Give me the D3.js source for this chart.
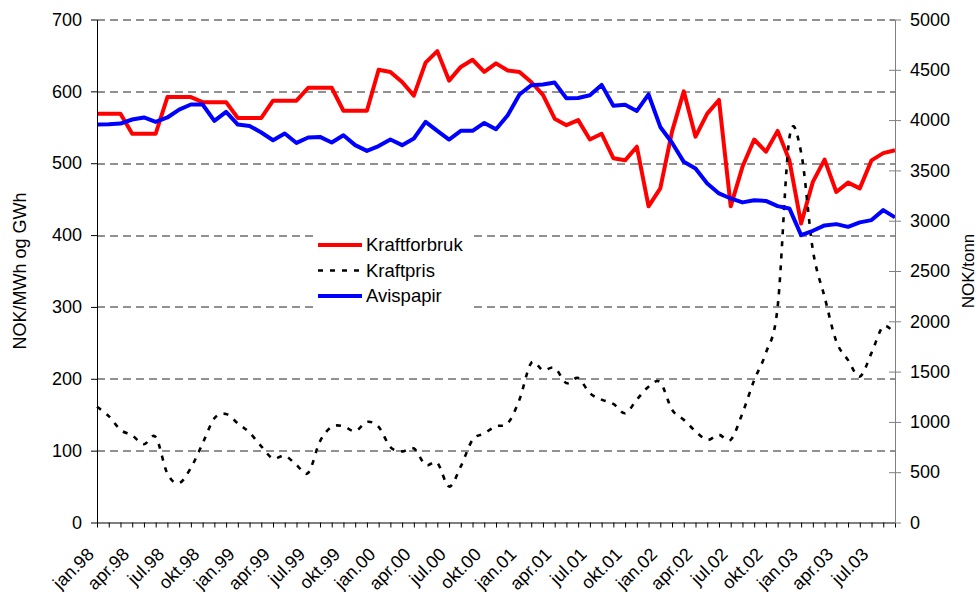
<!DOCTYPE html>
<html>
<head>
<meta charset="utf-8">
<script src="https://cdn.jsdelivr.net/npm/d3@7"></script>
<style>
	body { margin: 0; background: #fff; }
	svg { display: block; font-family: "Liberation Sans", Arial, sans-serif; }
</style>
</head>
<body>
<script>

// kategorier: månedlig, jan.98 - sep.03
var monthNames = ['jan', 'feb', 'mar', 'apr', 'mai', 'jun', 'jul', 'aug', 'sep', 'okt', 'nov', 'des'];
var years = ['98', '99', '00', '01', '02', '03'];
var nMonths = 69;

// venstre akse (NOK/MWh og GWh)
var kraftforbruk = [569,569,569,541,541,541,592,592,592,585,585,585,563,563,563,587,587,587,605,605,605,573,573,573,
	630,627,613,594,640,656,615,634,644,627,639,629,627,613,595,562,553,560,533,541,507,504,523,440,465,544,600,537,
	569,588,440,495,533,516,545,504,416,474,505,460,473,465,504,514,518];
var kraftpris = [161,148,129,121,109,119,68,55,76,110,145,151,138,125,106,89,93,80,69,113,133,134,127,140,
	133,105,99,103,80,83,50,78,115,124,134,138,171,222,212,215,194,201,180,171,165,152,171,189,195,157,143,127,
	115,122,115,152,198,236,300,535,515,379,314,252,226,203,236,273,262];
// høyre akse (NOK/tonn)
var avispapir = [3956,3959,3966,4006,4026,3982,4026,4105,4155,4155,3992,4081,3956,3942,3877,3800,3867,3773,3827,3833,
	3777,3850,3751,3694,3742,3807,3751,3817,3982,3893,3807,3893,3893,3972,3909,4048,4254,4346,4353,4373,4217,4220,
	4247,4350,4143,4152,4091,4255,3932,3775,3585,3519,3370,3271,3221,3182,3204,3197,3145,3122,2857,2900,2953,2966,
	2939,2983,3006,3105,3033];

var leftTicks = [0, 100, 200, 300, 400, 500, 600, 700];
var rightTicks = [0, 500, 1000, 1500, 2000, 2500, 3000, 3500, 4000, 4500, 5000];
var legendNames = ['Kraftforbruk', 'Kraftpris', 'Avispapir'];


var categories = [];
years.forEach(function(y) {
	monthNames.forEach(function(m) {
		if (categories.length < nMonths) categories.push(m + '.' + y);
	});
});


var margin = {top: 19.5, right: 85, bottom: 69.5, left: 97},
	width = 980 - margin.left - margin.right,
	height = 592 - margin.top - margin.bottom;

var x = d3.scalePoint().domain(categories).range([0, width]),
	y = d3.scaleLinear().domain([0, 700]).range([height, 0]),
	y2 = d3.scaleLinear().domain([0, 5000]).range([height, 0]);

var svg = d3.select('body').append('svg')
	.attr('width', 980)
	.attr('height', 592)
	.append('g')
	.attr('transform', 'translate(' + margin.left + ',' + margin.top + ')');


// rutenett
svg.append('g')
	.selectAll('line')
	.data(leftTicks.slice(1))
	.enter().append('line')
		.attr('x1', 0)
		.attr('x2', width)
		.attr('y1', function(d) { return Math.round(y(d)) + 0.5; })
		.attr('y2', function(d) { return Math.round(y(d)) + 0.5; })
		.style('stroke', '#222')
		.style('stroke-width', 1)
		.style('stroke-dasharray', '8,5');


// serier
function lineOf(values, scale, curve) {
	return d3.line()
		.curve(curve || d3.curveLinear)
		.x(function(d, i) { return x(categories[i]); })
		.y(function(d) { return scale(d); })(values);
}

svg.append('path')
	.attr('d', lineOf(kraftforbruk, y))
	.style('fill', 'none')
	.style('stroke', '#ff0000')
	.style('stroke-width', 4)
	.style('stroke-linejoin', 'round');

svg.append('path')
	.attr('d', lineOf(kraftpris, y, d3.curveCardinal.tension(0)))
	.style('fill', 'none')
	.style('stroke', '#000')
	.style('stroke-width', 2.6)
	.style('stroke-dasharray', '5,7');

svg.append('path')
	.attr('d', lineOf(avispapir, y2))
	.style('fill', 'none')
	.style('stroke', '#0000ff')
	.style('stroke-width', 4)
	.style('stroke-linejoin', 'round');


// akser
var xAxis = svg.append('g')
	.attr('transform', 'translate(0,' + height + ')')
	.call(d3.axisBottom(x).tickSize(5).tickSizeOuter(0).tickFormat(''));
xAxis.select('.domain').attr('stroke', '#000');

svg.append('g')
	.selectAll('text')
	.data(categories.filter(function(d, i) { return i % 3 === 0 && i <= 66; }))
	.enter().append('text')
		.attr('transform', function(d) {
			return 'translate(' + (x(d) - 2) + ',' + (height + 33) + ') rotate(-45)';
		})
		.style('text-anchor', 'end')
		.style('font-size', '18px')
		.style('fill', '#000')
		.text(function(d) { return d; });

var yAxis = svg.append('g')
	.call(d3.axisLeft(y).tickValues(leftTicks).tickSize(6).tickSizeOuter(0).tickPadding(9));
yAxis.selectAll('text').style('font-size', '18px').style('fill', '#000');

var y2Axis = svg.append('g')
	.attr('transform', 'translate(' + width + ',0)')
	.call(d3.axisRight(y2).tickValues(rightTicks).tickFormat(d3.format('d'))
		.tickSize(6).tickSizeOuter(0).tickPadding(9));
y2Axis.selectAll('text').style('font-size', '18px').style('fill', '#000');
y2Axis.selectAll('.domain').attr('stroke', '#808080');
y2Axis.selectAll('.tick line').attr('stroke', '#808080').attr('x1', -6);


// aksetitler
svg.append('text')
	.attr('transform', 'rotate(-90)')
	.attr('x', 0 - (height / 2))
	.attr('y', 20 - margin.left)
	.attr('dy', '0.35em')
	.style('text-anchor', 'middle')
	.style('font-size', '18px')
	.text('NOK/MWh og GWh');

svg.append('text')
	.attr('transform', 'rotate(-90)')
	.attr('x', 0 - (height / 2))
	.attr('y', width + 73)
	.attr('dy', '0.35em')
	.style('text-anchor', 'middle')
	.style('font-size', '17px')
	.text('NOK/tonn');


// tegnforklaring
var legend = svg.append('g')
	.attr('transform', 'translate(' + (313 - margin.left) + ',' + (228 - margin.top) + ')');

legend.append('rect')
	.attr('width', 158)
	.attr('height', 82)
	.style('fill', '#fff');

var legendStyles = [
	{color: '#ff0000', width: 4, dash: null},
	{color: '#000', width: 2.6, dash: '5,7'},
	{color: '#0000ff', width: 4, dash: null}
];

legendNames.forEach(function(name, i) {
	var row = legend.append('g').attr('transform', 'translate(0,' + (17 + i * 25.5) + ')');
	row.append('line')
		.attr('x1', 5)
		.attr('x2', 49)
		.style('stroke', legendStyles[i].color)
		.style('stroke-width', legendStyles[i].width)
		.style('stroke-dasharray', legendStyles[i].dash);
	row.append('text')
		.attr('x', 53)
		.attr('dy', '0.35em')
		.style('font-size', '18.5px')
		.text(name);
});

</script>
</body>
</html>
